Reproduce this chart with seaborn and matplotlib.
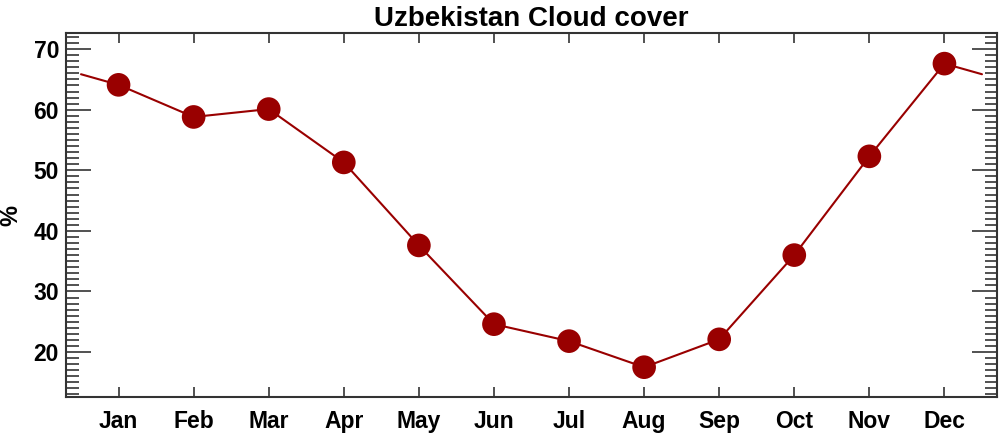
import numpy as np
import pandas as pd
import seaborn as sns
import matplotlib.pyplot as plt
from matplotlib.ticker import MultipleLocator

months = ['Jan', 'Feb', 'Mar', 'Apr', 'May', 'Jun', 'Jul', 'Aug', 'Sep', 'Oct', 'Nov', 'Dec']
cloud = [64.1, 58.8, 60.1, 51.3, 37.6, 24.6, 21.8, 17.5, 22.1, 36.0, 52.3, 67.6]

red = '#990000'

df = pd.DataFrame({'month': np.arange(1, 13), 'cloud': cloud})
# wrap the line half a month past each end (Dec -> Jan)
wrap = (cloud[0] + cloud[-1]) / 2
df_line = pd.concat([pd.DataFrame({'month': [0.5], 'cloud': [wrap]}), df,
                     pd.DataFrame({'month': [12.5], 'cloud': [wrap]})], ignore_index=True)

sns.set_style('white')
plt.rcParams['font.family'] = ['Liberation Sans', 'DejaVu Sans']
plt.rcParams['font.weight'] = 'bold'
plt.rcParams['text.color'] = 'black'
plt.rcParams['xtick.color'] = '#333333'
plt.rcParams['ytick.color'] = '#333333'
plt.rcParams['xtick.labelcolor'] = 'black'
plt.rcParams['ytick.labelcolor'] = 'black'

fig = plt.figure(figsize=(10, 4.33), dpi=100)
ax = fig.add_axes([0.066, 0.082, 0.931, 0.841])

sns.lineplot(data=df_line, x='month', y='cloud', color=red, lw=1.5, ax=ax)
sns.scatterplot(data=df, x='month', y='cloud', color=red, s=290, edgecolor='none', ax=ax, zorder=3)

ax.set_xlim(0.3, 12.7)
ax.set_ylim(min(cloud) - 5, max(cloud) + 5)
ax.set_xticks(np.arange(1, 13))
ax.set_xticklabels(months)
ax.yaxis.set_major_locator(MultipleLocator(10))
ax.yaxis.set_minor_locator(MultipleLocator(1))

ax.tick_params(axis='both', which='both', direction='in', top=True, right=True,
               bottom=True, left=True, labelsize=16.5)
ax.tick_params(axis='x', which='major', length=7, width=1.2, pad=9)
ax.tick_params(axis='y', which='major', length=18, width=1.2, pad=5)
ax.tick_params(axis='y', which='minor', length=9, width=1.2)
for lab in ax.get_xticklabels() + ax.get_yticklabels():
    lab.set_fontweight('bold')

for s in ax.spines.values():
    s.set_color('#333333')
    s.set_linewidth(1.5)

ax.set_xlabel('')
ax.set_ylabel('%', fontsize=17, fontweight='bold', color='black', labelpad=8)
ax.set_title('Uzbekistan Cloud cover', fontsize=20, fontweight='bold', color='black', pad=5)

fig.savefig('out.png', dpi=100)
